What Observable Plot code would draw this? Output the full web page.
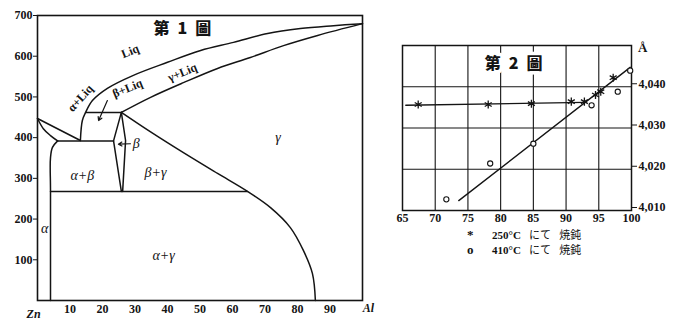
<!DOCTYPE html>
<html><head><meta charset="utf-8">
<script src="https://cdn.jsdelivr.net/npm/d3@7"></script>
<script src="https://cdn.jsdelivr.net/npm/@observablehq/plot@0.6"></script>
<style>
body{margin:0;background:#fff;}
#wrap{position:relative;width:677px;height:321px;overflow:hidden;background:#fff;}
#c1{position:absolute;left:0;top:0}
#c2{position:absolute;left:380px;top:0}
.lg{position:absolute;font:bold 11px "Liberation Serif",serif;color:#111;white-space:pre;}
.lg .m{display:inline-block;width:25px;font-size:13px;}
.lg .j{font-family:"Noto Sans CJK JP",sans-serif;font-weight:normal;}
</style></head><body>
<div id="wrap"><div id="c1"></div><div id="c2"></div></div>
<script>
// ---------- Fig. 1 : Zn–Al phase diagram (x = % Al, y = °C) ----------
const xTicks1 = [10,20,30,40,50,60,70,80,90];
const yTicks1 = [100,200,300,400,500,600,700];
const liquidus      = [[13.2,393],[13.8,442],[14.8,462],[16.9,491],[21.5,521],[29.5,553],[40,585],[50.2,614],[60.3,634],[70.8,656],[80.9,668],[91.1,675],[100,680]];
const gammaSolidus  = [[25.8,462],[34.8,499],[44.9,535],[55.4,570],[65.5,597],[75.7,626],[86.2,651],[100,680]];
const alphaLiquidus = [[0,447],[13.2,393]];
const alphaSolidus  = [[0,447],[1.8,422],[4.0,405],[6.2,392]];
const alphaSolvus   = [[6.2,392],[4.6,376],[4.0,351],[4.0,270],[4.0,0]];
const eutecticLine  = [[6.2,392],[23.4,392]];
const peritecticLine= [[14.8,462],[25.8,462]];
const betaLeft      = [[25.8,462],[23.4,392],[25.8,268]];
const betaRight     = [[25.8,462],[27.1,393],[26.2,268]];
const eutectoidLine = [[4.0,268],[64.6,268]];
const gammaSolvus   = [[25.8,462],[34.8,414],[44.9,363],[55.4,312],[64.6,268],[71.7,228],[77.8,179],[81.8,123],[84.6,66],[85.5,0]];
const phaseText   = ["Liq","α+Liq","β+Liq","γ+Liq","γ","β","α+β","β+γ","α","α+γ"];
const phaseX      = [28.5,13.2,27.7,44.6,74,30.4,13.8,36.3,2.2,38.8];
const phaseT      = [612,497,521,560,400,385,307,314,177,110];
const phaseRotate = [-22,-48,-22,-22,0,0,0,0,0,0];
const arrowsFig1  = [{x1:21.5,t1:491,x2:18.8,t2:442},{x1:28.6,t1:385,x2:24.9,t2:384}];
const title1 = "第\u20021\u2002圖";

// ---------- Fig. 2 : lattice constant (Å) vs % Al ----------
const xTicks2 = [65,70,75,80,85,90,95,100];
const gridX2  = [70,75,80,85,90,95];
const yTicks2 = [4.010,4.020,4.030,4.040];
const gridY2  = [4.020,4.030,4.040];
const star250X = [67.4,78.1,84.7,90.8,92.8,94.5,95.3,97.2];
const star250Y = [4.0357,4.0357,4.0359,4.0364,4.0364,4.0380,4.0388,4.0422];
const circ410X = [71.7,78.4,85.0,93.9,97.9,99.8];
const circ410Y = [4.0127,4.0214,4.0262,4.0355,4.0388,4.0439];
const line250  = [[65.5,4.0355],[92.8,4.0362]];
const line410  = [[73.6,4.0124],[99.8,4.0447]];
const title2 = "第\u20022\u2002圖";
const legendRows = [["*","250°C","にて","焼鈍"],["o","410°C","にて","焼鈍"]];

// ---------- build fig 1 ----------
const straight1 = {alphaLiquidus,eutecticLine,peritecticLine,betaLeft,betaRight,eutectoidLine};
const smooth1 = {liquidus,gammaSolidus,alphaSolidus,alphaSolvus,gammaSolvus};
const toRows = o => Object.entries(o).flatMap(([k,pts]) => pts.map(([x,t]) => ({k,x,t})));
const labels1 = phaseText.map((text,i) => ({text, x:phaseX[i], t:phaseT[i], r:phaseRotate[i], liq: text.includes("Liq")}));
const ink = "#141414";
const serif = "'Liberation Serif', 'DejaVu Serif', serif";

const c1 = Plot.plot({
  width: 375, height: 321,
  marginLeft: 37, marginRight: 13, marginTop: 15, marginBottom: 21,
  style: {fontFamily: serif, fontSize: "12px", fontWeight: "bold", background: "white", color: ink, overflow: "visible"},
  x: {domain: [0,100], ticks: xTicks1, tickSize: 0, tickPadding: 4, label: null},
  y: {domain: [0,700], ticks: yTicks1, tickSize: 4, tickPadding: 1, label: null},
  marks: [
    Plot.line(toRows(straight1), {x:"x", y:"t", z:"k", stroke: ink, strokeWidth: 1.5}),
    Plot.line(toRows(smooth1), {x:"x", y:"t", z:"k", stroke: ink, strokeWidth: 1.5, curve: "catmull-rom"}),
    Plot.frame({stroke: ink, strokeWidth: 1.6}),
    Plot.arrow(arrowsFig1, {x1:"x1", y1:"t1", x2:"x2", y2:"t2", stroke: ink, strokeWidth: 1.2, headLength: 5}),
    Plot.text(labels1.filter(d => !d.liq), {x:"x", y:"t", text:"text", rotate:"r", fontStyle:"italic", fontSize: 14, fontWeight: "normal", fill: ink}),
    Plot.text(labels1.filter(d => d.liq), {x:"x", y:"t", text:"text", rotate:"r", fontSize: 12, fontWeight: "bold", fill: ink}),
    Plot.text([title1], {x: 44.6, y: 668, text: d => d, fontFamily: "'Noto Sans CJK JP', sans-serif", fontSize: 16, fontWeight: 900, fill: ink}),
    Plot.text(["Zn"], {x: -1.2, y: 0, text: d => d, dy: 14, lineAnchor: "middle", fontStyle:"italic", fontSize: 12, fill: ink}),
    Plot.text(["Al"], {x: 101.8, y: 0, text: d => d, dy: 8, lineAnchor: "middle", fontStyle:"italic", fontSize: 12, fill: ink})
  ]
});
document.getElementById("c1").append(c1);

// ---------- build fig 2 ----------
const stars = star250X.map((x,i) => ({x, y: star250Y[i]}));
const circs = circ410X.map((x,i) => ({x, y: circ410Y[i]}));
const lines2 = [...line250.map(([x,y]) => ({k:"a",x,y})), ...line410.map(([x,y]) => ({k:"b",x,y}))];

const c2 = Plot.plot({
  width: 297, height: 225,
  marginLeft: 22, marginRight: 46, marginTop: 45, marginBottom: 15,
  style: {fontFamily: serif, fontSize: "12px", fontWeight: "bold", background: "white", color: ink, overflow: "visible"},
  x: {domain: [65,100], label: null},
  y: {domain: [4.010,4.050], label: null},
  marks: [
    Plot.gridX(gridX2, {stroke: ink, strokeOpacity: 1, strokeWidth: 1.1}),
    Plot.gridY(gridY2, {stroke: ink, strokeOpacity: 1, strokeWidth: 1.1}),
    Plot.frame({stroke: ink, strokeWidth: 1.5}),
    Plot.axisX({ticks: xTicks2, tickSize: 0, tickPadding: 3, label: null}),
    Plot.axisY({anchor: "right", ticks: yTicks2, tickSize: 5, tickPadding: 2, tickFormat: d => d.toFixed(3).replace(".", ","), label: null, dy: -3}),
    Plot.text(["Å"], {frameAnchor: "top-right", dx: 16, dy: 2, lineAnchor: "middle", text: d => d, fontSize: 13, fill: ink}),
    Plot.text([title2], {x: 82, y: 4.0456, text: d => d, fontFamily: "'Noto Sans CJK JP', sans-serif", fontSize: 16, fontWeight: 900, fill: ink, stroke: "white", strokeWidth: 7, paintOrder: "stroke"}),
    Plot.line(lines2, {x:"x", y:"y", z:"k", stroke: ink, strokeWidth: 1.4}),
    Plot.dot(stars, {x:"x", y:"y", symbol:"asterisk", r: 3.8, stroke: ink, strokeWidth: 1.3}),
    Plot.dot(circs, {x:"x", y:"y", symbol:"circle", r: 2.6, stroke: ink, strokeWidth: 1.1, fill: "white"})
  ]
});
document.getElementById("c2").append(c2);

// ---------- legend below fig 2 ----------
const wrap = document.getElementById("wrap");
legendRows.forEach((r,i) => {
  const div = document.createElement("div");
  div.className = "lg";
  div.style.left = "467px";
  div.style.top = (226 + i*15) + "px";
  div.innerHTML = `<span class="m">${r[0]}</span>${r[1]}   <span class="j">${r[2]}</span>   <span class="j">${r[3]}</span>`;
  wrap.append(div);
});
</script>
</body></html>
